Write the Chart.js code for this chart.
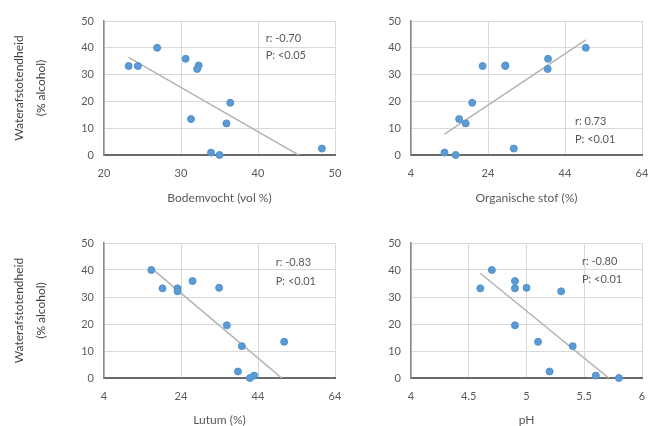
<!DOCTYPE html>
<html>
<head>
<meta charset="utf-8">
<script src="https://cdn.jsdelivr.net/npm/chart.js@4.4.1/dist/chart.umd.min.js"></script>
<style>
  html, body { margin: 0; padding: 0; background: #ffffff; width: 648px; height: 426px; overflow: hidden; }
  .panel { position: absolute; }
</style>
</head>
<body>
<div class="panel" style="left:0px;top:0px;"><canvas id="c1" width="350" height="213"></canvas></div>
<div class="panel" style="left:340px;top:0px;"><canvas id="c2" width="308" height="213"></canvas></div>
<div class="panel" style="left:0px;top:213px;"><canvas id="c3" width="350" height="230"></canvas></div>
<div class="panel" style="left:340px;top:213px;"><canvas id="c4" width="308" height="230"></canvas></div>
<script>
// ---- data (12 samples) ----
const waterafstotendheid = [40, 35.9, 33.4, 33.2, 33.2, 32.1, 19.5, 13.4, 11.8, 2.4, 0.9, 0];
const bodemvocht       = [26.9, 30.6, 32.3, 23.2, 24.4, 32.1, 36.4, 31.3, 35.9, 48.3, 33.9, 35.0];
const organischeStof   = [49.4, 39.6, 28.5, 22.6, 28.5, 39.5, 19.9, 16.5, 18.2, 30.7, 12.7, 15.6];
const lutum            = [16.3, 27.0, 33.9, 19.2, 23.1, 23.1, 35.9, 50.8, 39.8, 38.8, 43.0, 41.9];
const pH               = [4.7, 4.9, 5.0, 4.6, 4.9, 5.3, 4.9, 5.1, 5.4, 5.2, 5.6, 5.8];

// trend lines (endpoints)
const trendBodemX = [23.2, 48.3],   trendBodemY = [36.4, -5.0];
const trendOrgX   = [12.7, 49.4],   trendOrgY   = [7.8, 43.0];
const trendLutumX = [16.3, 50.8],   trendLutumY = [40.7, -0.8];
const trendPhX    = [4.6, 5.8],     trendPhY    = [38.8, -3.1];

// tick labels
const yTicks      = [0, 10, 20, 30, 40, 50];
const bodemTicks  = [20, 30, 40, 50];
const pctTicks    = [4, 24, 44, 64];
const phTicks     = [4, 4.5, 5, 5.5, 6];

// texts
const yTitle = ['Waterafstotendheid', '(% alcohol)'];
const xTitles = ['Bodemvocht (vol %)', 'Organische stof (%)', 'Lutum (%)', 'pH'];
const rLabels = ['r: -0.70', 'r: 0.73', 'r: -0.83', 'r: -0.80'];
const pLabels = ['P: <0.05', 'P: <0.01', 'P: <0.01', 'P: <0.01'];

Chart.defaults.font.family = 'Lato, "Liberation Sans", sans-serif';
Chart.defaults.color = '#595959';

const annotationPlugin = {
  id: 'statsText',
  afterDatasetsDraw(chart, args, opts) {
    const {ctx, scales: {x, y}} = chart;
    ctx.save();
    ctx.font = '11px Lato, "Liberation Sans", sans-serif';
    ctx.fillStyle = '#595959';
    ctx.textAlign = 'left';
    ctx.textBaseline = 'middle';
    ctx.fillText(opts.r, x.getPixelForValue(opts.x), y.getPixelForValue(opts.ry));
    ctx.fillText(opts.p, x.getPixelForValue(opts.x), y.getPixelForValue(opts.py));
    ctx.restore();
  }
};

function pts(xs, ys) { return xs.map((v, i) => ({x: v, y: ys[i]})); }

function makeChart(id, cfg) {
  const ctx = document.getElementById(id);
  return new Chart(ctx, {
    type: 'scatter',
    data: {
      datasets: [
        {
          type: 'line',
          data: pts(cfg.tx, cfg.ty),
          borderColor: '#b3b3b3',
          borderWidth: 1.5,
          pointRadius: 0,
          fill: false,
          order: 2
        },
        {
          data: pts(cfg.xs, waterafstotendheid),
          backgroundColor: '#5b9bd5',
          borderColor: '#5291cc',
          borderWidth: 1,
          pointRadius: 3.5,
          pointHoverRadius: 3.5,
          clip: false,
          order: 1
        }
      ]
    },
    plugins: [annotationPlugin],
    options: {
      responsive: false,
      animation: false,
      events: [],
      layout: { padding: { left: 0, top: cfg.top, right: cfg.right, bottom: 0 } },
      plugins: {
        legend: { display: false },
        tooltip: { enabled: false },
        statsText: cfg.ann
      },
      scales: {
        x: {
          type: 'linear',
          min: cfg.xTicks[0],
          max: cfg.xTicks[cfg.xTicks.length - 1],
          afterBuildTicks: s => { s.ticks = cfg.xTicks.map(v => ({value: v})); },
          afterFit: s => { s.height = cfg.xh; s.paddingLeft = 0; s.paddingRight = 0; },
          ticks: { font: { size: 11 }, color: '#595959', padding: 12, maxRotation: 0,
                   callback: (v, i) => String(cfg.xTicks[i]) },
          grid: { color: '#d9d9d9', lineWidth: 1, drawTicks: false },
          border: { color: '#6a6a6a', width: 2 },
          title: { display: true, text: cfg.xTitle, color: '#595959',
                   font: { size: 12 }, padding: { top: 0, bottom: cfg.titlePad } }
        },
        y: {
          type: 'linear',
          min: 0, max: 50,
          afterBuildTicks: s => { s.ticks = yTicks.map(v => ({value: v})); },
          afterFit: s => { s.width = cfg.yw; s.paddingTop = 0; s.paddingBottom = 0; },
          ticks: { font: { size: 11 }, color: '#595959', padding: 10,
                   callback: (v, i) => String(yTicks[i]) },
          grid: { color: '#d9d9d9', lineWidth: 1, drawTicks: false },
          border: { color: '#8a8a8a', width: 1.5 },
          title: { display: cfg.showYTitle, text: yTitle, color: '#404040',
                   font: { size: 12, lineHeight: 1.85 }, padding: { top: 8, bottom: 0 } }
        }
      }
    }
  });
}

makeChart('c1', { xs: bodemvocht, tx: trendBodemX, ty: trendBodemY, xTicks: bodemTicks,
  xTitle: xTitles[0], top: 21, right: 15, xh: 58, yw: 104, titlePad: 8, showYTitle: true,
  ann: { r: rLabels[0], p: pLabels[0], x: 41.0, ry: 43.4, py: 37.0 } });
makeChart('c2', { xs: organischeStof, tx: trendOrgX, ty: trendOrgY, xTicks: pctTicks,
  xTitle: xTitles[1], top: 21, right: 6, xh: 58, yw: 71, titlePad: 8, showYTitle: false,
  ann: { r: rLabels[1], p: pLabels[1], x: 46.6, ry: 12.5, py: 5.9 } });
makeChart('c3', { xs: lutum, tx: trendLutumX, ty: trendLutumY, xTicks: pctTicks,
  xTitle: xTitles[2], top: 30, right: 15, xh: 65, yw: 104, titlePad: 16, showYTitle: true,
  ann: { r: rLabels[2], p: pLabels[2], x: 48.6, ry: 42.7, py: 35.9 } });
makeChart('c4', { xs: pH, tx: trendPhX, ty: trendPhY, xTicks: phTicks,
  xTitle: xTitles[3], top: 30, right: 6, xh: 65, yw: 71, titlePad: 16, showYTitle: false,
  ann: { r: rLabels[3], p: pLabels[3], x: 5.48, ry: 43.3, py: 36.6 } });
</script>
</body>
</html>
